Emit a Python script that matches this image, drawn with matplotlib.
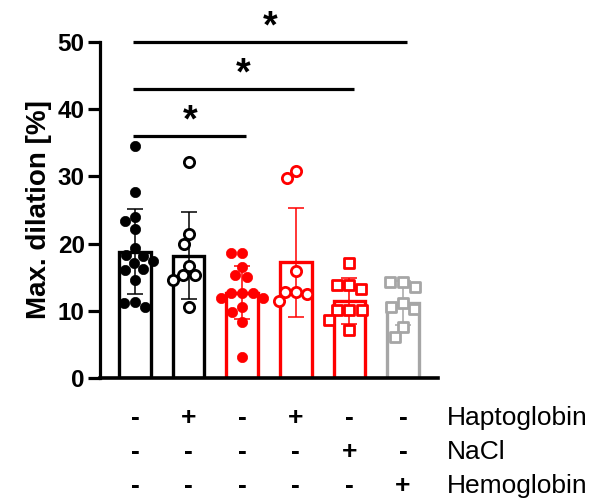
import matplotlib
matplotlib.use("Agg")
import matplotlib.pyplot as plt
import matplotlib.transforms as mtransforms
from matplotlib.markers import MarkerStyle
import numpy as np

plt.rcParams["font.family"] = ["Liberation Sans", "DejaVu Sans"]

# values (Max. dilation in %)
group1 = [34.5, 27.7, 24.0, 23.4, 22.2, 19.3, 18.3, 18.1, 17.4, 17.1, 16.2, 16.1, 14.6, 11.3, 11.2, 10.6]
group2 = [32.1, 21.4, 19.9, 16.7, 15.3, 15.3, 14.6, 10.6]
group3 = [18.6, 18.6, 16.5, 15.3, 15.0, 12.6, 12.6, 12.6, 11.9, 11.9, 10.6, 9.8, 8.3, 3.1]
group4 = [30.8, 29.7, 15.9, 12.8, 12.8, 12.5, 11.4]
group5 = [17.1, 13.8, 13.8, 13.2, 10.1, 10.1, 10.1, 8.6, 7.1]
group6 = [14.3, 14.3, 13.6, 11.2, 10.6, 10.2, 7.6, 6.1]
points = [group1, group2, group3, group4, group5, group6]

means = [18.8, 18.2, 12.7, 17.2, 11.5, 11.2]
sds = [6.3, 6.5, 3.9, 8.1, 3.4, 3.3]

haptoglobin = ["-", "+", "-", "+", "-", "-"]
nacl = ["-", "-", "-", "-", "+", "-"]
hemoglobin = ["-", "-", "-", "-", "-", "+"]
row_labels = ["Haptoglobin", "NaCl", "Hemoglobin"]

# significance brackets: (first group, last group, height)
comparisons = [(0, 2, 36.0), (0, 4, 43.0), (0, 5, 50.0)]

colors = ["black", "black", "#FF0000", "#FF0000", "#FF0000", "#A6A6A6"]
markers = ["o", "o", "o", "o", "s", "s"]
filled = [True, False, True, False, False, False]


def swarm_offsets(values, x_scale, y_scale, diameter):
    # plain beeswarm: highest value first, put each point as near the centre as it fits
    order = np.argsort(values, kind="stable")[::-1]
    placed = []
    offsets = np.zeros(len(values))
    for i in order:
        y = values[i] * y_scale
        for step in range(400):
            cand = ((step + 1) // 2) * 0.5 * (-1 if step % 2 else 1)
            if all(np.hypot(cand - px, y - py) >= diameter for px, py in placed):
                break
        placed.append((cand, y))
        offsets[i] = cand / x_scale
    return offsets


fig = plt.figure(figsize=(5.91, 4.99), dpi=100)
ax = fig.add_axes([100 / 591, 121 / 499, 338 / 591, 336 / 499])
ax.set_xlim(-0.653, 5.653)
ax.set_ylim(0, 50)

x = np.arange(len(means))
ax.bar(x, means, width=0.59, facecolor="white", edgecolor=colors, linewidth=2.4, zorder=1)

for i in range(len(means)):
    ax.errorbar(x[i], means[i], yerr=sds[i], fmt="none", ecolor=colors[i],
                elinewidth=1.1, capsize=6, capthick=1.1, zorder=2)

# pixel per data unit, for the swarm layout
p0 = ax.transData.transform((0, 0))
p1 = ax.transData.transform((1, 1))
x_scale, y_scale = p1 - p0

for i, vals in enumerate(points):
    vals = np.array(vals)
    c = colors[i]
    if markers[i] == "s":
        m = MarkerStyle("s", joinstyle="round")
        ms = 6.8
        offs = swarm_offsets(vals, x_scale, y_scale, 12.5)
    else:
        m = "o"
        ms = 7.4
        offs = swarm_offsets(vals, x_scale, y_scale, 11)
    ax.plot(x[i] + offs, vals, linestyle="none", marker=m, markersize=ms,
            markerfacecolor=c if filled[i] else "white", markeredgecolor=c,
            markeredgewidth=0.5 if filled[i] else 2.0, zorder=3, clip_on=False)

for a, b, h in comparisons:
    ax.plot([a - 0.03, b + 0.08], [h, h], color="black", linewidth=2.3,
            solid_capstyle="butt", clip_on=False, zorder=4)
    ax.annotate("*", xy=((a - 0.03 + b + 0.08) / 2, h), xytext=(0, 3.5),
                textcoords="offset points", ha="center", va="baseline",
                fontsize=27, fontweight="bold", annotation_clip=False)

ax.spines["top"].set_visible(False)
ax.spines["right"].set_visible(False)
ax.spines["left"].set_linewidth(2.3)
ax.spines["bottom"].set_linewidth(2.6)
ax.set_xticks([])
ax.set_yticks(np.arange(0, 51, 10))
ax.tick_params(axis="y", length=9, width=2.3, pad=2, labelsize=17.5)
for lab in ax.get_yticklabels():
    lab.set_fontweight("bold")
ax.set_ylabel("Max. dilation [%]", fontsize=20, fontweight="bold", labelpad=4)

# treatment table under the bars
trans = mtransforms.blended_transform_factory(ax.transData, ax.transAxes)
rows_y = [-0.119, -0.220, -0.321]
for row, signs in enumerate([haptoglobin, nacl, hemoglobin]):
    for i, s in enumerate(signs):
        ax.text(x[i], rows_y[row], s, transform=trans, ha="center", va="center",
                fontsize=19, fontweight="bold")
    ax.text(5.82, rows_y[row], row_labels[row], transform=trans, ha="left",
            va="center", fontsize=19)

fig.savefig("out.png", dpi=100)
